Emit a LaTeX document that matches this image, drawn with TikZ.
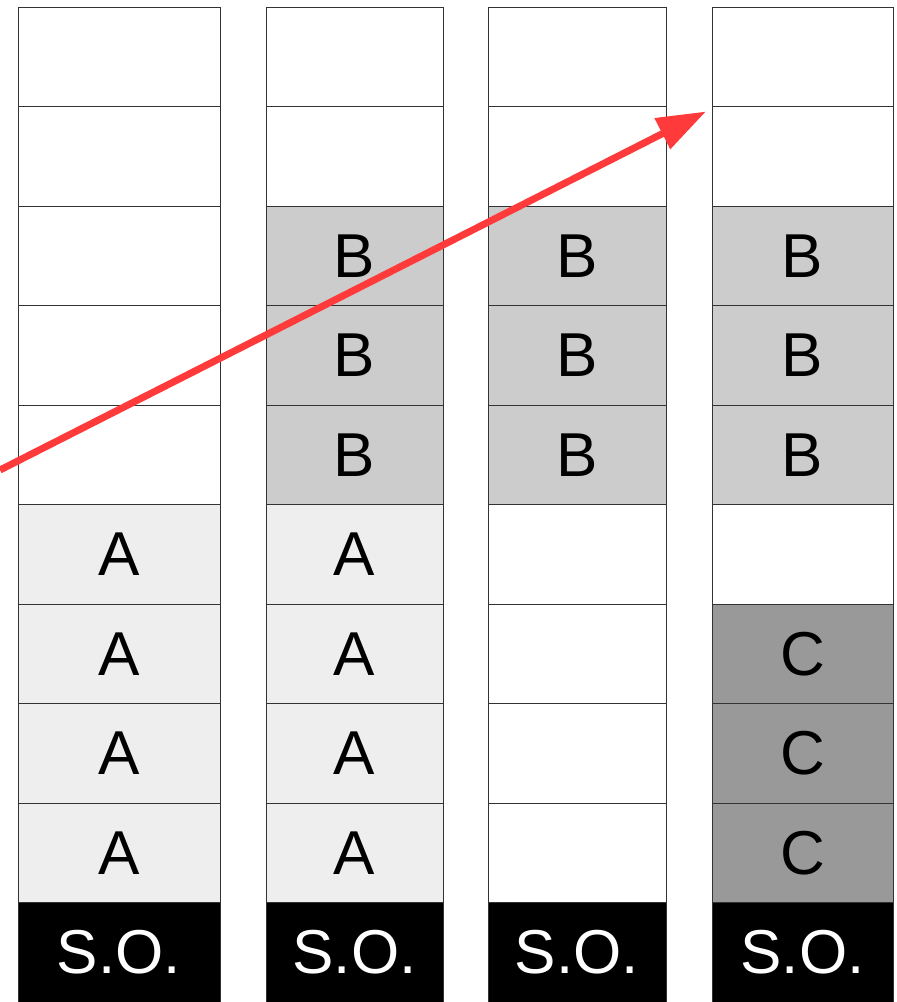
\documentclass[tikz,border=0pt]{standalone}
\usepackage{fontspec}
\setmainfont{Liberation Sans}
\definecolor{fillE}{HTML}{FFFFFF}
\definecolor{fillA}{HTML}{EEEEEE}
\definecolor{fillB}{HTML}{CCCCCC}
\definecolor{fillC}{HTML}{999999}
\definecolor{fillS}{HTML}{000000}
\colorlet{inkE}{black}
\colorlet{inkA}{black}
\colorlet{inkB}{black}
\colorlet{inkC}{black}
\colorlet{inkS}{white}
\definecolor{MoveRed}{RGB}{255,58,58}
\usetikzlibrary{arrows.meta}

\begin{document}
\begin{tikzpicture}[
      x=0.5pt, y=-0.5pt,
      every node/.style={font=\fontsize{31}{31}\selectfont, align=center},
      cell/.style     ={draw=black!80, line width=0.5pt, inner sep=0pt, outer sep=0pt,
                        minimum height=49.75pt},
      arr/.style      ={-{Triangle[length=24.5pt, width=16.5pt]}, line width=3.5pt, MoveRed},
  ]
  \useasboundingbox (0,0) rectangle (897,1002);

  % ─ Memory columns (top to bottom) ─
  \foreach \cx/\cw/\col/\cells in {
      119/202/1/{E/,E/,E/,E/,E/,A/A,A/A,A/A,A/A,S/S.O.},
      354.5/177/2/{E/,E/,B/B,B/B,B/B,A/A,A/A,A/A,A/A,S/S.O.},
      577/178/3/{E/,E/,B/B,B/B,B/B,E/,E/,E/,E/,S/S.O.},
      802.5/181/4/{E/,E/,B/B,B/B,B/B,E/,C/C,C/C,C/C,S/S.O.}}
    \foreach \f/\t [count=\r] in \cells
      \node[cell, fill=fill\f, text=ink\f, minimum width=\cw*0.5pt]
            (c\col-\r) at (\cx, {7+99.5*(\r-0.5)}) {\t};

  % ─ Arrow ─
  \coordinate (start) at (0,470);
  \coordinate (tip)   at ([xshift=-3pt, yshift=-2.5pt]c4-2.north west);
  \draw[arr] (start) -- (tip);
\end{tikzpicture}
\end{document}
